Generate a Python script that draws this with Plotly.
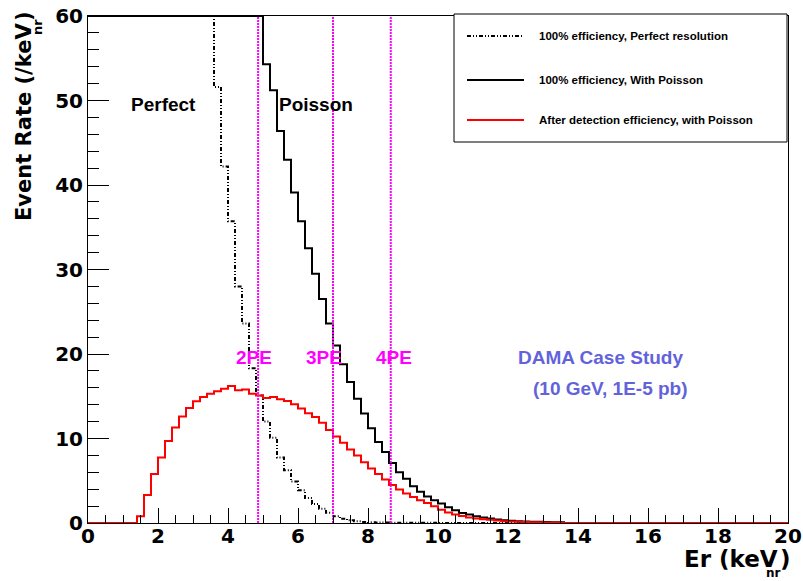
import numpy as np
import plotly.graph_objects as go

# ---- binning: 100 bins of 0.2 keVnr over 0-20 ----
bin_width = 0.2
n_bins = 100
bin_lo = [round(i * bin_width, 1) for i in range(n_bins)]

# Event rates per bin (/keVnr). Bins above the 60 ceiling are held at 60.
# 100% efficiency, perfect resolution (bins from 0.0 keV)
perfect_rate = [60.0] * 18 + [
    51.6, 42.2, 35.7, 28.0, 23.6, 18.3, 15.1, 12.0, 10.1, 7.75,
    6.25, 4.9, 3.87, 2.95, 2.25, 1.7, 1.2, 0.8, 0.5, 0.32,
    0.2, 0.13, 0.09, 0.06, 0.05, 0.04, 0.03, 0.03, 0.02, 0.02,
    0.02, 0.02, 0.01, 0.01, 0.01, 0.01, 0.01, 0.01, 0.01,
]
# 100% efficiency, with Poisson smearing (bins from 0.0 keV)
poisson_rate = [60.0] * 25 + [
    54.3, 51.2, 46.4, 43.0, 39.1, 35.7, 32.5, 29.5, 26.5, 23.6,
    21.0, 18.8, 16.7, 14.7, 12.95, 11.2, 9.6, 8.4, 7.1, 6.0,
    5.25, 4.35, 3.7, 3.15, 2.7, 2.3, 1.85, 1.5, 1.18, 1.0,
    0.79, 0.64, 0.52, 0.4, 0.32, 0.26, 0.22, 0.19, 0.16, 0.14,
    0.12, 0.1, 0.08,
]
# After detection efficiency, with Poisson smearing (bins from 0.0 keV)
detected_rate = [0.0] * 7 + [
    0.8, 3.3, 5.8, 7.75, 9.7, 11.3, 12.6, 13.6, 14.4, 14.9,
    15.3, 15.6, 15.9, 16.2, 15.7, 15.8, 15.3, 15.1, 14.8, 14.9,
    14.65, 14.45, 14.05, 13.55, 13.0, 12.55, 11.85, 11.0, 10.25, 9.5,
    8.7, 8.0, 7.2, 6.45, 5.8, 5.15, 4.5, 3.95, 3.5, 3.08,
    2.7, 2.37, 1.97, 1.56, 1.25, 1.0, 0.83, 0.66, 0.53, 0.45,
    0.37, 0.3, 0.22, 0.17, 0.15, 0.12, 0.1, 0.08, 0.07, 0.05,
    0.04,
]


def pad(vals):
    return vals + [0.0] * (n_bins - len(vals))


perfect_rate = pad(perfect_rate)
poisson_rate = pad(poisson_rate)
detected_rate = pad(detected_rate)

# photo-electron thresholds (keVnr)
pe_labels = ["2PE", "3PE", "4PE"]
pe_energy = [4.86, 7.0, 8.65]
pe_label_x = [4.75, 6.75, 8.75]
pe_label_y = 19.6

x_range = [0, 20]
y_range = [0, 60]

# ---- page geometry ----
W, H = 803, 581
ML, MR, MT, MB = 88, 15, 16, 58
PW, PH = W - ML - MR, H - MT - MB


def px(x):
    return (x - ML) / PW


def py(y):
    return (H - MB - y) / PH


FONT = "Liberation Sans, Arial, Helvetica, sans-serif"
AXFONT = "DejaVu Sans, Verdana, sans-serif"
DASHDOT = "4px,2px,1px,2px,1px,2px"


def step_xy(vals):
    xs = bin_lo + [x_range[1]]
    ys = vals + [vals[-1]]
    return xs, ys


fig = go.Figure()

xs, ys = step_xy(perfect_rate)
fig.add_trace(go.Scatter(x=xs, y=ys, mode="lines", line_shape="hv",
                         line=dict(color="black", width=2, dash=DASHDOT)))
xs, ys = step_xy(poisson_rate)
fig.add_trace(go.Scatter(x=xs, y=ys, mode="lines", line_shape="hv",
                         line=dict(color="black", width=2)))
xs, ys = step_xy(detected_rate)
fig.add_trace(go.Scatter(x=xs, y=ys, mode="lines", line_shape="hv",
                         line=dict(color="#ff0000", width=2)))

for e in pe_energy:
    fig.add_trace(go.Scatter(x=[e, e], y=y_range, mode="lines",
                             line=dict(color="#ff00ff", width=2, dash="2px,1px")))

annotations = []
for lab, lx in zip(pe_labels, pe_label_x):
    annotations.append(dict(x=lx, y=pe_label_y, xref="x", yref="y", text="<b>%s</b>" % lab,
                            showarrow=False, xanchor="center", yanchor="middle",
                            font=dict(family=FONT, size=19, color="#ff00ff")))


def label(xp, yp, text, size, color, family=FONT, angle=0, xa="center", ya="middle"):
    return dict(x=px(xp), y=py(yp), xref="paper", yref="paper", text="<b>%s</b>" % text,
                showarrow=False, xanchor=xa, yanchor=ya, textangle=angle,
                font=dict(family=family, size=size, color=color))


annotations += [
    label(163, 104, "Perfect", 19, "black"),
    label(316, 104, "Poisson", 19, "black"),
    label(600, 357, "DAMA Case Study", 19, "#6262dc"),
    label(610, 388, "(10 GeV, 1E-5 pb)", 19, "#6262dc"),
    # x-axis title: Er (keV_nr), subscript tucked under the V
    label(780, 559, "Er (keV", 23, "black", AXFONT, xa="right"),
    label(773, 573, "nr", 12, "black", AXFONT),
    label(785, 559, ")", 23, "black", AXFONT),
    # y-axis title: Event Rate (/keV_nr)
    label(24, 21, "Event Rate (/keV", 21, "black", AXFONT, angle=-90, ya="top"),
    label(37, 27, "nr", 13, "black", AXFONT, angle=-90),
    label(24, 16, ")", 21, "black", AXFONT, angle=-90),
]

# legend box
legend_rows = [
    ("100% efficiency, Perfect resolution", "black", DASHDOT, 36),
    ("100% efficiency, With Poisson", "black", "solid", 80),
    ("After detection efficiency, with Poisson", "#ff0000", "solid", 120),
]
shapes = [dict(type="rect", xref="paper", yref="paper", x0=px(454), x1=px(787),
               y0=py(142), y1=py(14), line=dict(color="black", width=1),
               fillcolor="white", layer="above")]
for text, col, dash, yy in legend_rows:
    shapes.append(dict(type="line", xref="paper", yref="paper", x0=px(467), x1=px(524),
                       y0=py(yy), y1=py(yy), line=dict(color=col, width=2, dash=dash),
                       layer="above"))
    annotations.append(dict(x=px(537), y=py(yy), xref="paper", yref="paper",
                            text="<b>%s</b>" % text,
                            showarrow=False, xanchor="left", yanchor="middle",
                            font=dict(family=FONT, size=11.5, color="black")))

axis_common = dict(showgrid=False, zeroline=False, showline=True, linecolor="black",
                   linewidth=1, mirror=True, ticks="inside", tickcolor="black",
                   tickwidth=1, automargin=False,
                   tickfont=dict(family=AXFONT, size=20, color="black", weight="bold"))

fig.update_layout(
    width=W, height=H, autosize=False,
    margin=dict(l=ML, r=MR, t=MT, b=MB, autoexpand=False),
    paper_bgcolor="white", plot_bgcolor="white",
    showlegend=False,
    xaxis=dict(range=x_range, dtick=2, tick0=0, ticklen=15, ticklabelstandoff=-5,
               minor=dict(dtick=0.5, ticklen=8, ticks="inside", tickcolor="black"),
               **axis_common),
    yaxis=dict(range=y_range, dtick=10, tick0=0, ticklen=21, ticklabelstandoff=0,
               minor=dict(dtick=2, ticklen=11, ticks="inside", tickcolor="black"),
               **axis_common),
    annotations=annotations,
    shapes=shapes,
)

fig.write_html("out.html")
